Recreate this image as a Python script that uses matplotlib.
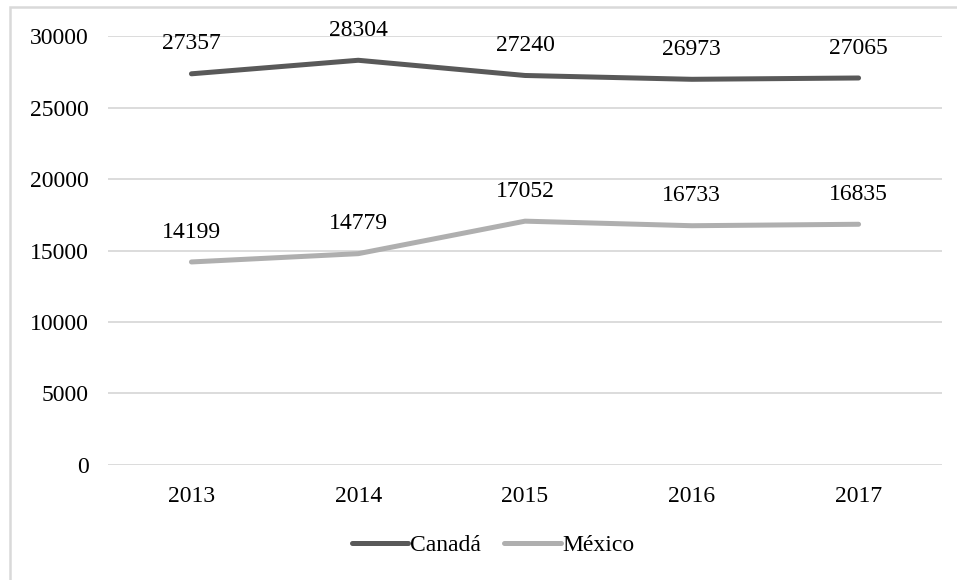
import matplotlib.pyplot as plt
from matplotlib.patches import Rectangle

# Series data
years = ['2013', '2014', '2015', '2016', '2017']
canada = [27357, 28304, 27240, 26973, 27065]
mexico = [14199, 14779, 17052, 16733, 16835]

plt.rcParams['font.family'] = ['Liberation Serif', 'DejaVu Serif']

fig = plt.figure(figsize=(9.57, 5.80), dpi=100)
ax = fig.add_axes([0.1129, 0.1983, 0.8714, 0.7396])

# chart frame
fig.patches.append(Rectangle((10 / 957, -0.1), 1.2, 1 - 7 / 580 + 0.1,
                             transform=fig.transFigure, fill=False,
                             edgecolor='#d9d9d9', linewidth=1.8, zorder=0))

x = range(len(years))
ax.plot(x, canada, color='#595959', linewidth=3.6, solid_capstyle='round', label='Canadá', zorder=3)
ax.plot(x, mexico, color='#afafaf', linewidth=3.6, solid_capstyle='round', label='México', zorder=3)

for series in (canada, mexico):
    for i, v in enumerate(series):
        ax.annotate(f'{v}', (i, v), xytext=(0, 21.5), textcoords='offset points',
                    ha='center', va='center', fontsize=17, color='black')

ax.set_xlim(-0.5, 4.5)
ax.set_ylim(0, 30000)
ax.set_yticks(range(0, 30001, 5000))
ax.set_xticks(list(x))
ax.set_xticklabels(years)
ax.tick_params(axis='both', length=0, labelsize=17)
ax.tick_params(axis='y', pad=14)
ax.tick_params(axis='x', pad=15)
ax.grid(axis='y', color='#d9d9d9', linewidth=1.3)
ax.set_axisbelow(True)
for s in ax.spines.values():
    s.set_visible(False)

fig.legend(loc='center', bbox_to_anchor=(0.515, 0.0603), ncol=2, frameon=False,
           fontsize=17, handlelength=2.4, handletextpad=0.05, columnspacing=1.0)

fig.savefig('out.png', dpi=100)
